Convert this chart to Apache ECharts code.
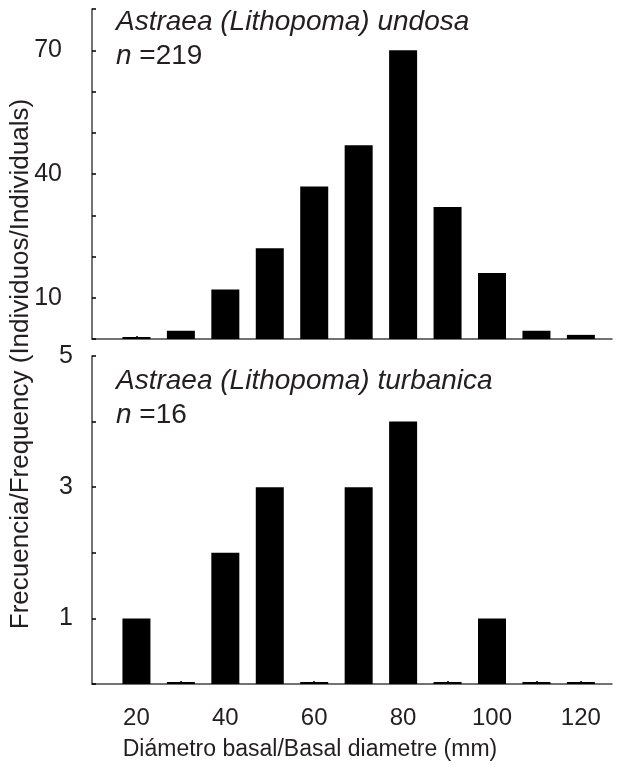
<!DOCTYPE html>
<html>
<head>
<meta charset="utf-8">
<script src="https://cdn.jsdelivr.net/npm/echarts@6/dist/echarts.min.js"></script>
<style>
html,body{margin:0;padding:0;background:#fff;}
#chart{width:618px;height:767px;}
</style>
</head>
<body>
<div id="chart"></div>
<script>
// Size classes (mm), bin centres
var bins = [20, 30, 40, 50, 60, 70, 80, 90, 100, 110, 120];
// Astraea (Lithopoma) undosa, n = 219
var undosa = [0, 2, 12, 22, 37, 47, 70, 32, 16, 2, 1];
// Astraea (Lithopoma) turbanica, n = 16
var turbanica = [1, 0, 2, 3, 0, 3, 4, 0, 1, 0, 0];
// Tick labels
var xTickLabels = [20, 40, 60, 80, 100, 120];
var yLabelsTop = [10, 40, 70];
var yLabelsBottom = [1, 3, 5];
var titleTop = 'Astraea (Lithopoma) undosa';
var nTop = '219';
var titleBottom = 'Astraea (Lithopoma) turbanica';
var nBottom = '16';
var yName = 'Frecuencia/Frequency (Individuos/Individuals)';
var xName = 'Diámetro basal/Basal diametre (mm)';

var FONT = '"Liberation Sans", Arial, sans-serif';
var TXT = '#231f20';
var AX = '#444';

function pairs(vals) {
  return bins.map(function (b, i) { return [b, vals[i]]; });
}

var chart = echarts.init(document.getElementById('chart'), null, {renderer: 'canvas'});

var xAxisBase = {
  type: 'value', min: 10, max: 127,
  splitLine: {show: false},
  axisLine: {show: true, onZero: false, lineStyle: {color: AX, width: 1.5}},
  axisTick: {show: true, inside: true, length: 3, customValues: bins, lineStyle: {color: '#000', width: 1.5}},
};

var yAxisBase = {
  type: 'value',
  splitLine: {show: false},
  axisLine: {show: true, lineStyle: {color: AX, width: 1.5}},
  axisTick: {show: true, inside: true, length: 4, lineStyle: {color: '#000', width: 1.5}}
};

var option = {
  animation: false,
  backgroundColor: '#fff',
  grid: [
    {left: 92, right: 6, top: 9, height: 330, outerBoundsMode: 'none', containLabel: false},
    {left: 92, right: 6, top: 356, height: 328, outerBoundsMode: 'none', containLabel: false}
  ],
  xAxis: [
    Object.assign({}, xAxisBase, {gridIndex: 0, axisLabel: {show: false}}),
    Object.assign({}, xAxisBase, {gridIndex: 1,
      axisLabel: {show: true, customValues: xTickLabels, fontSize: 24, color: TXT, fontFamily: FONT, margin: 22}
    })
  ],
  yAxis: [
    Object.assign({}, yAxisBase, {gridIndex: 0, min: 0, max: 80, interval: 10,
      axisLabel: {customValues: yLabelsTop, fontSize: 25, color: TXT, fontFamily: FONT, margin: 30}}),
    Object.assign({}, yAxisBase, {gridIndex: 1, min: 0, max: 5, interval: 1,
      axisLabel: {customValues: yLabelsBottom, fontSize: 25, color: TXT, fontFamily: FONT, margin: 19}})
  ],
  series: [
    {type: 'bar', xAxisIndex: 0, yAxisIndex: 0, data: pairs(undosa), barWidth: 28, barMinHeight: 2,
     itemStyle: {color: '#000'}},
    {type: 'bar', xAxisIndex: 1, yAxisIndex: 1, data: pairs(turbanica), barWidth: 28, barMinHeight: 2,
     itemStyle: {color: '#000'}}
  ],
  graphic: [
    {type: 'text', left: 116, top: 8, style: {text: titleTop, font: 'italic 28px ' + FONT, fill: TXT}},
    {type: 'text', left: 116, top: 42, style: {text: '{i|n} =' + nTop, font: '28px ' + FONT, fill: TXT,
      rich: {i: {fontStyle: 'italic', fontSize: 28, fontFamily: FONT, fill: TXT}}}},
    {type: 'text', left: 116, top: 367, style: {text: titleBottom, font: 'italic 28px ' + FONT, fill: TXT}},
    {type: 'text', left: 116, top: 401, style: {text: '{i|n} =' + nBottom, font: '28px ' + FONT, fill: TXT,
      rich: {i: {fontStyle: 'italic', fontSize: 28, fontFamily: FONT, fill: TXT}}}},
    {type: 'text', x: 21, y: 364, rotation: Math.PI / 2,
     style: {text: yName, font: '26px ' + FONT, fill: TXT, align: 'center', verticalAlign: 'middle'}},
    {type: 'text', x: 310, y: 750,
     style: {text: xName, font: '23px ' + FONT, fill: TXT, align: 'center', verticalAlign: 'middle'}}
  ]
};
chart.setOption(option);
</script>
</body>
</html>
